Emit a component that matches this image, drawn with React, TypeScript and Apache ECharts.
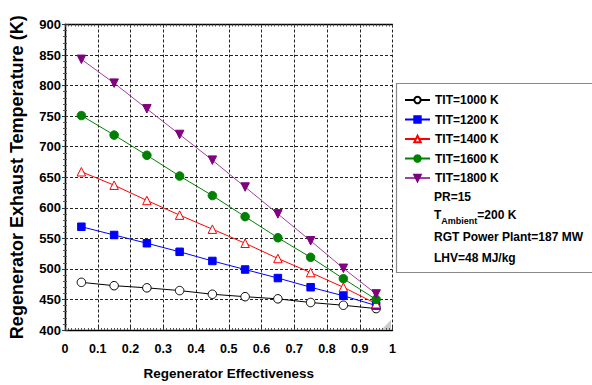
import React, { useEffect, useRef } from "react";
import * as echarts from "echarts";

const effectiveness = [0.05, 0.15, 0.25, 0.35, 0.45, 0.55, 0.65, 0.75, 0.85, 0.95];
const tit1000 = [478, 472.5, 469, 464.5, 458.5, 454.5, 451, 445, 440.5, 435];
const tit1200 = [569, 555.5, 542, 528, 513, 499, 485, 470, 456, 440];
const tit1400 = [659, 637, 612, 588, 565, 542, 517, 494, 470, 443];
const tit1600 = [751, 719, 686, 652, 620, 585.5, 551, 519, 484, 450];
const tit1800 = [843, 804, 762, 720, 678, 634, 590, 546, 501, 459];
const seriesNames = ["TIT=1000 K", "TIT=1200 K", "TIT=1400 K", "TIT=1600 K", "TIT=1800 K"];
const notes = ["PR=15", "T_Ambient=200 K", "RGT Power Plant=187 MW", "LHV=48 MJ/kg"];

const FONT = "'Liberation Sans', Arial, sans-serif";

export default function App() {
  const ref = useRef<HTMLDivElement>(null);
  useEffect(() => {
    if (!ref.current) return;
    const chart = echarts.init(ref.current, null, { renderer: "svg" });
    const pts = (vals: number[]) => effectiveness.map((x, i) => [x, vals[i]]);
    const gridL = 57.5, gridT = 24.5, gridR = 199.5, gridB = 55;
    const axisCommon = {
      axisLine: { show: true, lineStyle: { color: "#000", width: 1.3 } },
      axisTick: { show: true, inside: true, length: 3, lineStyle: { color: "#333" } },
    };
    const mk = (name: string, data: number[], line: string, symbol: string, fill: string, border: string, rot = 0) => ({
      name,
      type: "line",
      data: pts(data),
      symbol,
      symbolSize: symbol === "rect" ? 7.5 : 8.5,
      symbolRotate: rot,
      lineStyle: { color: line, width: 1 },
      itemStyle: { color: fill, borderColor: border, borderWidth: 1 },
      emphasis: { disabled: true },
    });
    const noteStyle = { fontFamily: FONT, fontWeight: "bold", fontSize: 12, fill: "#000", verticalAlign: "middle" };
    const sub = notes[1].split("_")[1];
    chart.setOption({
      animation: false,
      backgroundColor: "#fff",
      grid: { left: gridL, top: gridT, right: gridR, bottom: gridB, show: false },
      xAxis: [
        {
          type: "value", min: 0, max: 1, interval: 0.1,
          ...axisCommon,
          minorTick: { show: true, splitNumber: 10, length: 2, lineStyle: { color: "#555" } },
          splitLine: { show: true, lineStyle: { color: "#222", type: [3, 2], width: 1 } },
          axisLabel: { color: "#000", fontFamily: FONT, fontWeight: "bold", fontSize: 12.5, margin: 12 },
          name: "Regenerator Effectiveness",
          nameLocation: "middle",
          nameGap: 36,
          nameTextStyle: { color: "#000", fontFamily: FONT, fontWeight: "bold", fontSize: 13.5 },
        },
        {
          type: "value", min: 0, max: 1, interval: 0.1, position: "top",
          ...axisCommon,
          minorTick: { show: true, splitNumber: 10, length: 2, lineStyle: { color: "#555" } },
          axisLabel: { show: false }, splitLine: { show: false },
        },
      ],
      yAxis: [
        {
          type: "value", min: 400, max: 900, interval: 50,
          ...axisCommon,
          minorTick: { show: true, splitNumber: 5, length: 2, lineStyle: { color: "#555" } },
          splitLine: { show: true, lineStyle: { color: "#222", type: [3, 2], width: 1 } },
          axisLabel: { color: "#000", fontFamily: FONT, fontWeight: "bold", fontSize: 13, margin: 4 },
          name: "Regenerator Exhaust Temperature (K)",
          nameLocation: "middle",
          nameGap: 39,
          nameTextStyle: { color: "#000", fontFamily: FONT, fontWeight: "bold", fontSize: 18 },
        },
        {
          type: "value", min: 400, max: 900, interval: 50, position: "right",
          ...axisCommon,
          minorTick: { show: true, splitNumber: 5, length: 2, lineStyle: { color: "#555" } },
          axisLabel: { show: false }, splitLine: { show: false },
        },
      ],
      legend: {
        orient: "vertical",
        left: 404,
        top: 93.5,
        itemWidth: 25,
        itemHeight: 8,
        itemGap: 6.5,
        padding: 0,
        data: seriesNames,
        textStyle: { color: "#000", fontFamily: FONT, fontWeight: "bold", fontSize: 12, lineHeight: 13 },
      },
      graphic: [
        {
          type: "rect",
          shape: { x: 396.5, y: 83.5, width: 210, height: 189 },
          style: { fill: "none", stroke: "#888", lineWidth: 1.2 },
          silent: true,
        },
        {
          type: "polygon",
          shape: { points: [[391, 320], [391, 329], [382, 329]] },
          style: { fill: "#ccc" },
          silent: true,
        },
        { type: "text", x: 434, y: 197, style: { ...noteStyle, text: notes[0] } },
        {
          type: "text", x: 434, y: 217,
          style: {
            text: "{m|" + notes[1].split("_")[0] + "}{s|" + sub.split("=")[0] + "}{m|=" + sub.split("=")[1] + "}",
            verticalAlign: "middle",
            rich: {
              m: { fontFamily: FONT, fontWeight: "bold", fontSize: 12, fill: "#000", lineHeight: 16, verticalAlign: "top" },
              s: { fontFamily: FONT, fontWeight: "bold", fontSize: 9, fill: "#000", lineHeight: 16, verticalAlign: "bottom", padding: [7, 0, 0, 0] },
            },
          },
        },
        { type: "text", x: 434, y: 237, style: { ...noteStyle, text: notes[2] } },
        { type: "text", x: 434, y: 258, style: { ...noteStyle, text: notes[3] } },
      ],
      series: [
        mk(seriesNames[0], tit1000, "#000", "circle", "#fff", "#000"),
        mk(seriesNames[1], tit1200, "#0000ff", "rect", "#0000ff", "#0000ff"),
        mk(seriesNames[2], tit1400, "#ff0000", "triangle", "#fff", "#ff0000"),
        mk(seriesNames[3], tit1600, "#008000", "circle", "#008000", "#008000"),
        mk(seriesNames[4], tit1800, "#a040a0", "triangle", "#800080", "#800080", 180),
      ],
    });
    return () => chart.dispose();
  }, []);
  return <div ref={ref} style={{ width: 592, height: 385, position: "absolute", left: 0, top: 0 }} />;
}
